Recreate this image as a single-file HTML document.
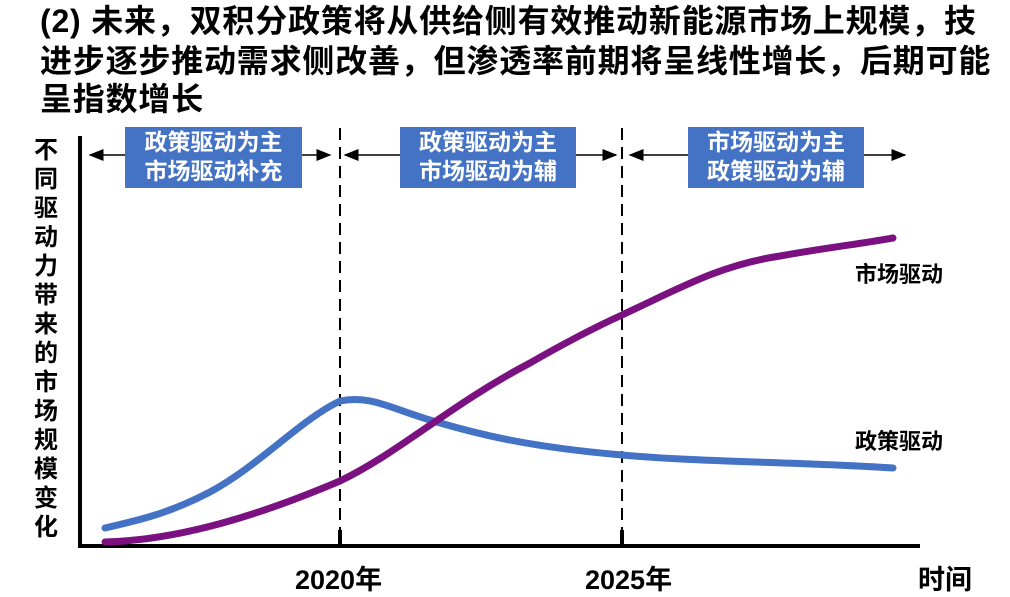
<!DOCTYPE html>
<html><head><meta charset="utf-8"><style>
body{margin:0;background:#fff;width:1010px;height:586px;overflow:hidden;position:relative;font-family:"Liberation Sans","Noto Sans CJK SC",sans-serif;}
.t{position:absolute;left:40px;font-size:32px;font-weight:bold;color:#000;white-space:nowrap;line-height:38px;letter-spacing:0.8px;}
.box{position:absolute;background:#4472c4;color:#fff;font-weight:bold;font-size:23px;text-align:center;line-height:29px;}
.yl{position:absolute;left:31px;top:136px;width:30px;font-size:24px;font-weight:bold;line-height:29px;text-align:center;}
.lb{position:absolute;font-size:22px;font-weight:bold;}
</style></head><body>
<div class="t" style="top:2px">(2) 未来，双积分政策将从供给侧有效推动新能源市场上规模，技</div>
<div class="t" style="top:42px">进步逐步推动需求侧改善，但渗透率前期将呈线性增长，后期可能</div>
<div class="t" style="top:80px">呈指数增长</div>
<div class="yl">不同驱动力带来的市场规模变化</div>
<svg width="1010" height="586" style="position:absolute;left:0;top:0">
<defs><marker id="a" markerWidth="10" markerHeight="8" refX="9" refY="4" orient="auto-start-reverse"><path d="M0,0 L10,4 L0,8 z" fill="#000"/></marker></defs>
<line x1="80" y1="136" x2="80" y2="548" stroke="#000" stroke-width="4"/>
<line x1="78" y1="546" x2="920" y2="546" stroke="#000" stroke-width="4"/>
<line x1="340" y1="128" x2="340" y2="545" stroke="#000" stroke-width="2" stroke-dasharray="12,7"/>
<line x1="622" y1="128" x2="622" y2="545" stroke="#000" stroke-width="2" stroke-dasharray="12,7"/>
<line x1="340" y1="530" x2="340" y2="545" stroke="#000" stroke-width="4"/>
<line x1="622" y1="530" x2="622" y2="545" stroke="#000" stroke-width="4"/>
<line x1="90" y1="155" x2="330" y2="155" stroke="#000" stroke-width="1.5" marker-start="url(#a)" marker-end="url(#a)"/>
<line x1="345" y1="155" x2="616" y2="155" stroke="#000" stroke-width="1.5" marker-start="url(#a)" marker-end="url(#a)"/>
<line x1="630" y1="155" x2="905" y2="155" stroke="#000" stroke-width="1.5" marker-start="url(#a)" marker-end="url(#a)"/>
<path d="M105,528 C140,520 170,513 210,492 C260,465 300,420 340,401 C370,395 390,408 430,420 C480,435 530,447 622,455 C700,462 800,462 893,468" fill="none" stroke="#4472c4" stroke-width="7" stroke-linecap="round"/>
<path d="M105,542 C180,540 260,515 340,481 C400,452 450,405 530,363 C570,340 600,325 622,315 C680,288 720,265 780,256 C830,247 860,244 893,238" fill="none" stroke="#7b1180" stroke-width="7" stroke-linecap="round"/>
</svg>
<div class="box" style="left:125px;top:127px;width:177px;height:60px;padding-top:1px">政策驱动为主<br>市场驱动补充</div>
<div class="box" style="left:400px;top:127px;width:176px;height:60px;padding-top:1px">政策驱动为主<br>市场驱动为辅</div>
<div class="box" style="left:688px;top:127px;width:176px;height:60px;padding-top:1px">市场驱动为主<br>政策驱动为辅</div>
<div class="lb" style="left:855px;top:257px">市场驱动</div>
<div class="lb" style="left:855px;top:424px">政策驱动</div>
<div class="lb" style="left:295px;top:558px;font-size:27px">2020年</div>
<div class="lb" style="left:585px;top:558px;font-size:27px">2025年</div>
<div class="lb" style="left:918px;top:558px;font-size:27px">时间</div>
</body></html>
